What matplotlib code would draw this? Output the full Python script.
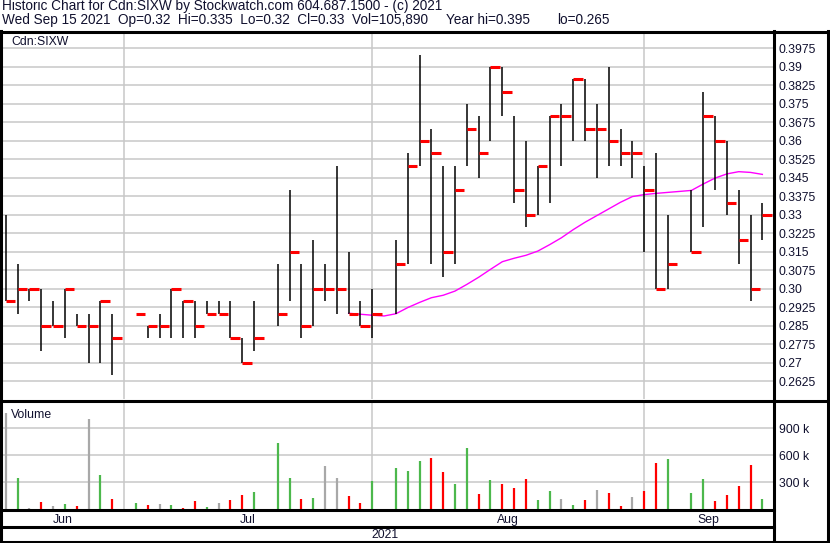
import matplotlib
matplotlib.use("Agg")
import matplotlib.pyplot as plt

plt.rcParams["font.family"] = ["Liberation Sans", "DejaVu Sans"]

W, H = 830, 543
TEXT = "#10102e"
GRID = "#c8c8c8"

# one slot per weekday; None = no trading that day
highs = [0.33, 0.31, 0.30, 0.30, 0.295, 0.30, 0.29, 0.29, 0.295, 0.29,
         None, 0.29, 0.285, 0.29, 0.30, 0.295, 0.295, 0.295, 0.295, 0.295,
         0.28, 0.295, None, 0.31, 0.34, 0.31, 0.32, 0.31, 0.35, 0.315,
         0.295, 0.30, None, 0.32, 0.355, 0.395, 0.365, 0.35, 0.35, 0.375,
         0.37, 0.39, 0.39, 0.37, 0.36, 0.35, 0.37, 0.375, 0.385, 0.385,
         0.375, 0.39, 0.365, 0.36, 0.35, 0.355, 0.33, None, 0.34, 0.38,
         0.37, 0.36, 0.34, 0.33, 0.335]
lows = [0.295, 0.29, 0.295, 0.275, 0.285, 0.28, 0.285, 0.27, 0.27, 0.265,
        None, 0.29, 0.28, 0.28, 0.28, 0.28, 0.28, 0.29, 0.29, 0.28,
        0.27, 0.275, None, 0.285, 0.295, 0.28, 0.285, 0.295, 0.29, 0.29,
        0.285, 0.28, None, 0.29, 0.31, 0.35, 0.31, 0.305, 0.31, 0.35,
        0.345, 0.36, 0.37, 0.335, 0.325, 0.33, 0.335, 0.35, 0.36, 0.36,
        0.345, 0.35, 0.35, 0.345, 0.315, 0.30, 0.30, None, 0.315, 0.325,
        0.34, 0.33, 0.31, 0.295, 0.32]
closes = [0.295, 0.30, 0.30, 0.285, 0.285, 0.30, 0.285, 0.285, 0.295, 0.28,
          None, 0.29, 0.285, 0.285, 0.30, 0.295, 0.285, 0.29, 0.29, 0.28,
          0.27, 0.28, None, 0.29, 0.315, 0.285, 0.30, 0.30, 0.30, 0.29,
          0.285, 0.29, None, 0.31, 0.35, 0.36, 0.355, 0.315, 0.34, 0.365,
          0.355, 0.39, 0.38, 0.34, 0.33, 0.35, 0.37, 0.37, 0.385, 0.365,
          0.365, 0.36, 0.355, 0.355, 0.34, 0.30, 0.31, None, 0.315, 0.37,
          0.36, 0.335, 0.32, 0.30, 0.33]
volumes_k = [1074, 346, 15, 82, 33, 56, 33, 1004, 379, 112,
             None, 67, 45, 56, 45, 11, 89, 22, 67, 100,
             156, 190, None, 736, 346, 112, 123, 480, 346, 145,
             67, 312, None, 457, 424, 535, 569, 413, 279, 680,
             167, 323, 279, 234, 335, 100, 201, 112, 45, 100,
             212, 178, 33, 134, 201, 513, 558, None, 178, 335,
             89, 156, 256, 491, 106]

ma_start = 29
ma_values = [0.2901, 0.2897, 0.2893, 0.2890, 0.2899, 0.2924, 0.2945, 0.2964,
             0.2974, 0.2991, 0.3018, 0.3047, 0.3079, 0.3110, 0.3124, 0.3136,
             0.3153, 0.3179, 0.3207, 0.3240, 0.3270, 0.3297, 0.3324, 0.3351,
             0.3374, 0.3382, 0.3387, 0.3391, 0.3395, 0.3399, 0.3425, 0.3449,
             0.3466, 0.3475, 0.3472, 0.3464]

month_names = ["Jun", "Jul", "Aug", "Sep"]
month_starts = [10, 31, 54]
price_ticks = [0.3975, 0.39, 0.3825, 0.375, 0.3675, 0.36, 0.3525, 0.345, 0.3375,
               0.33, 0.3225, 0.315, 0.3075, 0.30, 0.2925, 0.285, 0.2775, 0.27, 0.2625]
price_labels = ["0.3975", "0.39", "0.3825", "0.375", "0.3675", "0.36", "0.3525",
                "0.345", "0.3375", "0.33", "0.3225", "0.315", "0.3075", "0.30",
                "0.2925", "0.285", "0.2775", "0.27", "0.2625"]
vol_ticks = [300, 600, 900]
vol_labels = ["300 k", "600 k", "900 k"]

header1 = "Historic Chart for Cdn:SIXW by Stockwatch.com 604.687.1500 - (c) 2021"
header2 = "Wed Sep 15 2021  Op=0.32  Hi=0.335  Lo=0.32  Cl=0.33  Vol=105,890"
header2_year_hi = "Year hi=0.395"
header2_year_lo = "lo=0.265"

XLIM = (-0.326, 64.9)
FS = 8.8
FS_HEAD = 9.8


def px_axes(fig, x0, y0, x1, y1):
    return fig.add_axes([x0 / W, 1 - y1 / H, (x1 - x0) / W, (y1 - y0) / H])


def style_panel(ax):
    for s in ax.spines.values():
        s.set_visible(False)
    ax.set_xlim(*XLIM)
    ax.set_xticks(month_starts)
    ax.tick_params(axis="x", length=0, labelbottom=False)
    ax.yaxis.tick_right()
    ax.tick_params(axis="y", length=0, pad=4.3, labelsize=FS, labelcolor=TEXT)
    ax.grid(True, color=GRID, lw=1.1)
    ax.set_axisbelow(True)


fig = plt.figure(figsize=(W / 100, H / 100), dpi=100)
fig.patch.set_facecolor("white")

# price panel
ax_p = px_axes(fig, 2, 33, 773, 399)
style_panel(ax_p)
ax_p.set_ylim(0.25534, 0.40372)
ax_p.set_yticks(price_ticks)
ax_p.set_yticklabels(price_labels)

days = [i for i, c in enumerate(closes) if c is not None]
ax_p.vlines(days, [lows[i] for i in days], [highs[i] for i in days],
            color="black", lw=1.1, zorder=3)
ax_p.hlines([closes[i] for i in days], days, [i + 0.8 for i in days],
            color="#ff0000", lw=2.2, zorder=4)
ax_p.plot(range(ma_start, ma_start + len(ma_values)), ma_values,
          color="#ff00ff", lw=1.0, zorder=2)
ax_p.text(9 / 771, 1 - (45 - 33) / 366, "Cdn:SIXW", transform=ax_p.transAxes,
          fontsize=FS, color=TEXT, va="baseline")

# volume panel
ax_v = px_axes(fig, 2, 403, 773, 509)
style_panel(ax_v)
ax_v.set_ylim(0, 1182)
ax_v.set_yticks(vol_ticks)
ax_v.set_yticklabels(vol_labels)
colors = []
prev = None
for i in days:
    if prev is None or closes[i] == prev:
        colors.append("#a8a8a8")
    elif closes[i] > prev:
        colors.append("#4cb84c")
    else:
        colors.append("#ff0000")
    prev = closes[i]
ax_v.vlines(days, 0, [volumes_k[i] for i in days], colors=colors, lw=1.6, zorder=3)
ax_v.text(9 / 771, 1 - (418 - 403) / 106, "Volume", transform=ax_v.transAxes,
          fontsize=FS, color=TEXT, va="baseline")

# month and year rows
ax_m = px_axes(fig, 2, 510, 773, 527)
ax_m.set_xlim(*XLIM)
ax_m.axis("off")
edges = [XLIM[0]] + month_starts + [XLIM[1]]
for k, name in enumerate(month_names):
    ax_m.text((edges[k] + edges[k + 1]) / 2, 0.42, name, ha="center", va="center",
              fontsize=FS, color=TEXT)

ax_y = px_axes(fig, 2, 527, 773, 541)
ax_y.axis("off")
ax_y.text(0.497, 0.45, "2021", ha="center", va="center", fontsize=FS, color=TEXT,
          transform=ax_y.transAxes)

# frame and header
ax_o = fig.add_axes([0, 0, 1, 1], zorder=10)
ax_o.set_xlim(0, W)
ax_o.set_ylim(H, 0)
ax_o.axis("off")
ax_o.patch.set_alpha(0)
lw = 2.2
ax_o.plot([0, W], [31.5, 31.5], color="black", lw=lw)
ax_o.plot([1, 1], [31, H], color="black", lw=lw)
ax_o.plot([828, 828], [31, H], color="black", lw=lw)
ax_o.plot([0, W], [541.5, 541.5], color="black", lw=lw)
ax_o.plot([774, 774], [31, H], color="black", lw=lw)
ax_o.plot([0, W], [400.5, 400.5], color="black", lw=lw)
ax_o.plot([0, 774], [509.8, 509.8], color="black", lw=lw)
ax_o.plot([0, 774], [526.5, 526.5], color="black", lw=lw)
ax_o.text(1.5, 10.3, header1, fontsize=FS_HEAD, color=TEXT, va="baseline")
ax_o.text(1.5, 23.8, header2, fontsize=FS_HEAD, color=TEXT, va="baseline")
ax_o.text(446, 23.8, header2_year_hi, fontsize=FS_HEAD, color=TEXT, va="baseline")
ax_o.text(557, 23.8, header2_year_lo, fontsize=FS_HEAD, color=TEXT, va="baseline")

fig.savefig("out.png", dpi=100, facecolor="white")
